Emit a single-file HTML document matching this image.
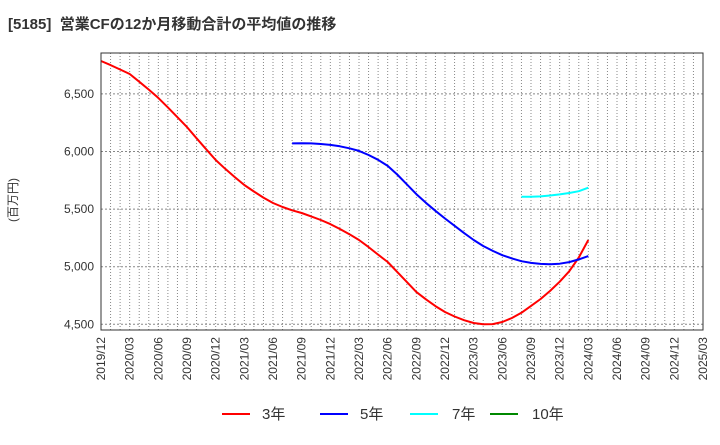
<!DOCTYPE html>
<html><head><meta charset="utf-8"><style>
body{margin:0;background:#fff;font-family:"Liberation Sans","Noto Sans CJK JP",sans-serif;}
</style></head><body>
<svg width="720" height="440" xmlns="http://www.w3.org/2000/svg" font-family="Liberation Sans, Noto Sans CJK JP, sans-serif">
<text x="8" y="29" font-size="15" font-weight="bold" fill="#333">[5185]&#160;&#160;営業CFの12か月移動合計の平均値の推移</text>
<text transform="translate(17,200) rotate(-90)" text-anchor="middle" font-size="12" fill="#333">(百万円)</text>
<g id="grid"></g>
<g id="yt"></g>
<g id="xt"></g>
<g id="series"></g>
<rect x="101" y="53" width="602" height="277" fill="none" stroke="#333" stroke-width="1"/>
<g font-size="15" fill="#333">
<line x1="222" y1="414" x2="250" y2="414" stroke="#f00" stroke-width="2"/><text x="262" y="419">3年</text>
<line x1="320" y1="414" x2="348" y2="414" stroke="#00f" stroke-width="2"/><text x="360" y="419">5年</text>
<line x1="410" y1="414" x2="438" y2="414" stroke="#0ff" stroke-width="2"/><text x="452" y="419">7年</text>
<line x1="490" y1="414" x2="518" y2="414" stroke="#080" stroke-width="2"/><text x="532" y="419">10年</text>
</g>
</svg>
<script>
const xLabels=["2019/12","2020/03","2020/06","2020/09","2020/12","2021/03","2021/06","2021/09","2021/12","2022/03","2022/06","2022/09","2022/12","2023/03","2023/06","2023/09","2023/12","2024/03","2024/06","2024/09","2024/12","2025/03"];
const yTicks=[4500,5000,5500,6000,6500];
const s3Start=0;
const s3=[6786,6750,6712,6673,6606,6537,6465,6383,6298,6212,6115,6020,5926,5850,5778,5709,5653,5600,5553,5518,5490,5466,5437,5405,5370,5327,5282,5232,5170,5105,5041,4955,4868,4781,4717,4658,4607,4568,4536,4511,4500,4502,4520,4555,4600,4660,4720,4790,4870,4960,5080,5232];
const s5Start=20;
const s5=[6070,6072,6070,6065,6057,6045,6028,6005,5970,5928,5875,5800,5715,5630,5555,5485,5418,5355,5292,5232,5180,5137,5100,5072,5048,5033,5024,5022,5026,5040,5063,5092];
const s7Start=44;
const s7=[5608,5607,5610,5618,5628,5640,5655,5686];
const NS="http://www.w3.org/2000/svg";
const L=101,R=703,T=53,B=330,NM=63;
function xs(i){return L+i*(R-L)/NM;}
function ys(v){return 324.3-(v-4500)*0.1152;}
function mk(t,a,p){const e=document.createElementNS(NS,t);for(const k in a)e.setAttribute(k,a[k]);p.appendChild(e);return e;}
const g=document.getElementById('grid');
for(let i=1;i<NM;i++){const l=mk('line',{x1:xs(i),x2:xs(i),y1:T,y2:B,stroke:'#888','stroke-width':1,'stroke-dasharray':'1,2'},g);

}
const yt=document.getElementById('yt');
yTicks.forEach(v=>{const l=mk('line',{x1:L,x2:R,y1:ys(v),y2:ys(v),stroke:'#888','stroke-width':1,'stroke-dasharray':'2,2'},g);


const t=mk('text',{x:94,y:ys(v)+4,'text-anchor':'end','font-size':12,fill:'#333'},yt);t.textContent=v.toLocaleString('en-US');

});
const xt=document.getElementById('xt');
xLabels.forEach((s,i)=>{const x=xs(i*3);const t=mk('text',{transform:`translate(${x+4},337) rotate(-90)`,'text-anchor':'end','font-size':12,fill:'#333'},xt);t.textContent=s;

});
const sg=document.getElementById('series');
function line(arr,st,col,name){const p=arr.map((v,i)=>xs(st+i).toFixed(1)+','+ys(v).toFixed(1)).join(' ');
const e=mk('polyline',{points:p,fill:'none',stroke:col,'stroke-width':2,'stroke-linejoin':'round'},sg);

}
line(s3,s3Start,'#f00','series-3y');
line(s5,s5Start,'#00f','series-5y');
line(s7,s7Start,'#0ff','series-7y');
</script>
</body></html>
